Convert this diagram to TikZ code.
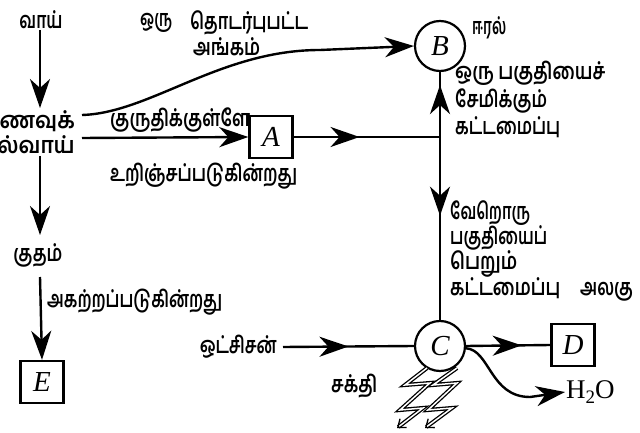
\documentclass[tikz,border=0pt]{standalone}
\usepackage{fontspec}
\usepackage{graphicx}
\setmainfont{Liberation Serif}
\newfontfamily\tamil[Script=Tamil]{Hind Madurai}
\newcommand\tw[2]{\resizebox{#1pt}{\height}{#2}}
\usetikzlibrary{arrows.meta,decorations.markings}
\begin{document}
\begin{tikzpicture}[x=1pt,y=-1pt,
  ln/.style={line width=2.4pt},
  tip/.tip={Stealth[length=29pt,width=20pt,inset=9pt]},
  arr/.style={ln,-tip},
  midarr/.style={ln,postaction={decorate},decoration={markings,mark=at position #1 with {\arrow{tip}}}},
  tx/.style={font=\tamil\bfseries\fontsize{23}{26.5}\selectfont, inner sep=0pt},
  letter/.style={font=\fontsize{29}{29}\selectfont\itshape},
  boxn/.style={draw, line width=2.4pt, minimum width=43pt, minimum height=42pt, inner sep=0pt, letter},
  circ/.style={draw, circle, line width=2.2pt, minimum size=50pt, inner sep=0pt, letter},
  bolt/.style={double, line width=1.3pt, double distance=1.5pt, -{Straight Barb[length=7pt,width=11pt]}}
]
\useasboundingbox (0,0) rectangle (640,433);
% left column
\node[tx] (mouth) at (41,20) {\tw{43}{வாய்}};
\node[tx, align=right, anchor=east, font=\tamil\bfseries\fontsize{23}{25}\selectfont] (gut) at (75,132) {\tw{94}{உணவுக்}\\\tw{108}{கால்வாய்}};
\node[tx] (anus) at (38,255) {\tw{49}{குதம்}};
\node[boxn] (E) at (42,382) {E};
\node[tx, anchor=west] (elim) at (47,302) {\tw{175}{அகற்றப்படுகின்றது}};
\coordinate (g1) at (40,108);
\coordinate (g2) at (40,156);
\coordinate (g3) at (40,235);
\coordinate (g4) at (40,277);
\draw[arr] (40,30) -- (g1);
\draw[arr] (g2) -- (g3);
\draw[arr] (g4) -- (E.north);
% top texts
\node[tx, anchor=west] (t1) at (140,23) {\tw{32}{ஒரு}};
\node[tx, anchor=west] (t2) at (190,23) {\tw{118}{தொடர்புபட்ட}};
\node[tx, anchor=west] (t3) at (193,47) {\tw{67}{அங்கம்}};
\node[tx, anchor=west] (t4) at (110,120) {\tw{140}{குருதிக்குள்ளே}};
\node[tx, anchor=west] (t5) at (110,176) {\tw{187}{உறிஞ்சப்படுகின்றது}};
% A, B, C, D
\node[boxn] (A) at (271,137) {A};
\node[circ] (B) at (440,46) {B};
\node[tx, anchor=west] (liver) at (472,28) {\tw{34}{ஈரல்}};
\node[tx, anchor=north west, align=left, font=\tamil\bfseries\fontsize{23}{27.5}\selectfont] (store) at (455,61) {\tw{150}{ஒரு பகுதியைச்}\\\tw{92}{சேமிக்கும்}\\\tw{105}{கட்டமைப்பு}};
\node[circ] (C) at (440,346) {C};
\node[boxn] (D) at (573,345) {D};
\node[font=\fontsize{27}{27}\selectfont, anchor=west, inner sep=1pt] (water) at (565,392) {H\raisebox{-0.35ex}{\fontsize{19}{19}\selectfont 2}O};
\node[tx, anchor=east] (oxy) at (277,347) {\tw{77}{ஒட்சிசன்}};
\node[tx, anchor=west] (energy) at (331,386) {\tw{46}{சக்தி}};
\node[tx, anchor=north west, align=left, font=\tamil\bfseries\fontsize{23}{25}\selectfont] (unit) at (450,200) {\tw{80}{வேறொரு}\\\tw{97}{பகுதியைப்}\\\tw{67}{பெறும்}\\\tw{110}{கட்டமைப்பு}\hspace{20pt}\tw{53}{அலகு}};
% connectors
\coordinate (c0) at (82,115);
\draw[ln] (c0) .. controls (150,113) and (220,50) .. (320,50);
\draw[arr] (320,50) -- (B.west);
\coordinate (a0) at (82,138);
\draw[arr] (a0) -- (A.west);
\coordinate (J) at (440,137);
\draw[midarr=0.45] (A.east) -- (J);
\draw[midarr=0.8] (J) -- (B.south);
\draw[midarr=0.43] (J) -- (C.north);
\draw[midarr=0.5] ([xshift=6pt]oxy.east) -- (C.west);
\draw[midarr=0.66] (C.east) -- (D.west);
\draw[arr] (C.-5) .. controls (490,350) and (490,397) .. (530,397) -- (water.west);
% energy bolts
\draw[bolt] (427,368) -- (405,385) -- (430,383) -- (400,410) -- (423,408) -- (397,428);
\draw[bolt] (457,368) -- (433,385) -- (457,383) -- (428,410) -- (452,408) -- (425,428);
\end{tikzpicture}
\end{document}
